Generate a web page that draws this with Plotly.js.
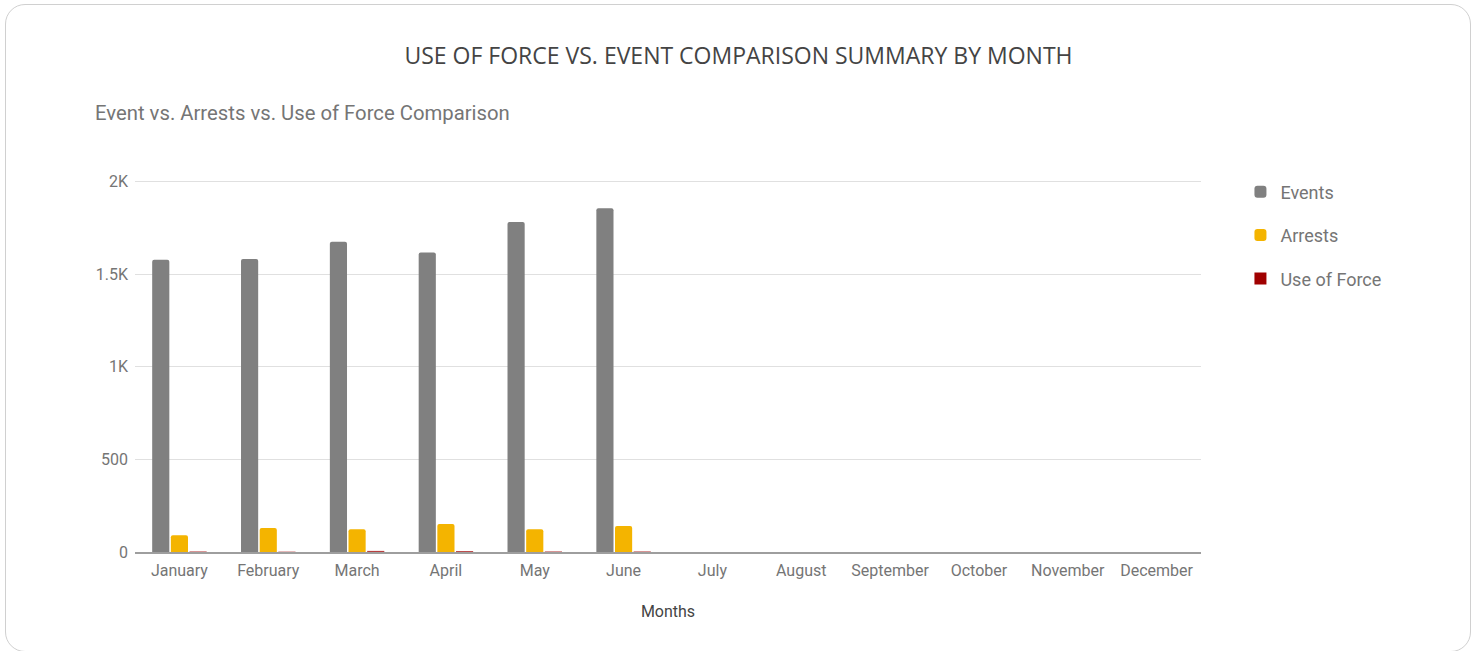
<!DOCTYPE html>
<html>
<head>
<meta charset="utf-8">
<script src="https://cdn.plot.ly/plotly-3.0.1.min.js"></script>
<style>
html,body{margin:0;padding:0;background:#fff;width:1477px;height:651px;overflow:hidden;}
#frame{position:absolute;left:5px;top:4px;width:1466px;height:648px;border:1px solid #d0d0d0;border-radius:20px;box-sizing:border-box;}
#chart{position:absolute;left:0;top:0;width:1477px;height:651px;}
</style>
</head>
<body>
<div id="frame"></div>
<div id="chart"></div>
<script>
const months = ["January","February","March","April","May","June","July","August","September","October","November","December"];
const events = [1578, 1582, 1676, 1618, 1782, 1856, null, null, null, null, null, null];
const arrests = [90, 130, 123, 151, 123, 140, null, null, null, null, null, null];
const useOfForce = [3, 2, 6, 5, 3, 3, null, null, null, null, null, null];
const yTickVals = [0, 500, 1000, 1500, 2000];
const yTickText = ["0", "500", "1K", "1.5K", "2K"];

const traces = [
  {type:"bar", name:"Events", x:months, y:events, marker:{color:"#808080", cornerradius:2}, legendgroup:"a"},
  {type:"bar", name:"Arrests", x:months, y:arrests, marker:{color:"#f4b400", cornerradius:2}, legendgroup:"b"},
  {type:"bar", name:"Use of Force", x:months, y:useOfForce, marker:{color:"#a00000", opacity:0.75}, legendgroup:"c"}
];

const layout = {
  width:1477, height:651,
  paper_bgcolor:"rgba(0,0,0,0)", plot_bgcolor:"rgba(0,0,0,0)",
  margin:{l:135, r:276, t:178.3, b:99, pad:0},
  barmode:"group", bargap:0.37, bargroupgap:0.08,
  font:{family:"Roboto, sans-serif", color:"#757575", size:16},
  title:{text:"USE OF FORCE VS. EVENT COMPARISON SUMMARY BY MONTH", font:{family:"Open Sans, sans-serif", size:23, color:"#444"}, x:0.5, xref:"container", y:1-56/651, yref:"container", yanchor:"middle"},
  annotations:[{text:"Event vs. Arrests vs. Use of Force Comparison", xref:"paper", yref:"paper", x:(93-135)/1066, xanchor:"left", y:1+(178.3-113)/373.7, yanchor:"middle", showarrow:false, font:{family:"Roboto, sans-serif", size:20.3, color:"#757575"}}],
  xaxis:{type:"category", showgrid:false, showline:true, linecolor:"#9e9e9e", linewidth:1.5, ticks:"", tickfont:{size:16, color:"#757575"}, ticklabelstandoff:3,
    title:{text:"Months", font:{size:16, color:"#444"}, standoff:27}},
  yaxis:{range:[0,2020], tickvals:yTickVals, ticktext:yTickText, showgrid:true, gridcolor:"#e0e0e0", gridwidth:1, zeroline:false, showline:false, ticks:"", tickfont:{size:16, color:"#757575"}, ticklabelstandoff:6},
  legend:{x:1.037, xanchor:"left", y:1.012, yanchor:"top", font:{size:18, color:"#757575"}, tracegroupgap:17, itemwidth:30, bgcolor:"rgba(0,0,0,0)"},
  showlegend:true
};
Plotly.newPlot("chart", traces, layout, {displayModeBar:false, staticPlot:true});
</script>
</body>
</html>
